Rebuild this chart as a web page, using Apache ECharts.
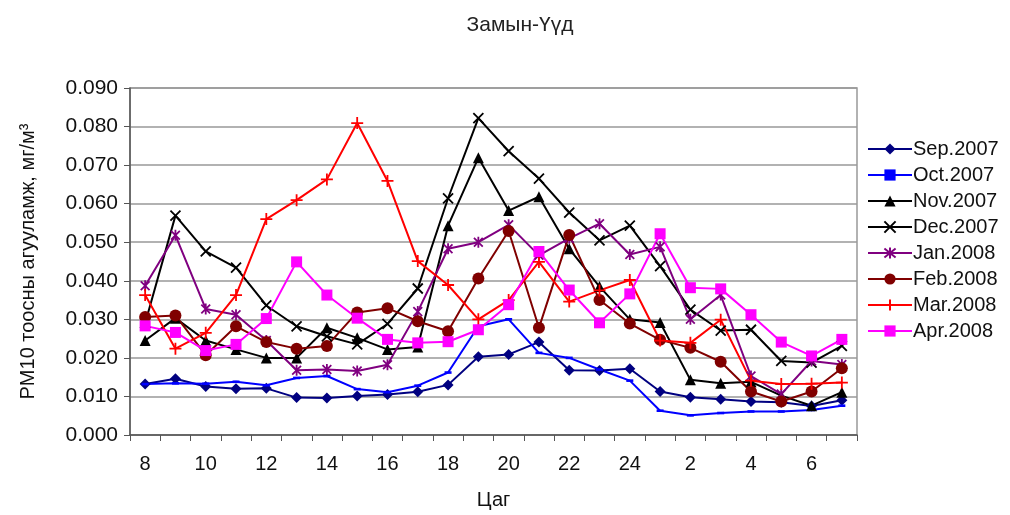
<!DOCTYPE html>
<html lang="mn">
<head>
<meta charset="UTF-8">
<title>Замын-Үүд</title>
<script src="https://cdn.jsdelivr.net/npm/echarts@6/dist/echarts.min.js"></script>
<style>
  html, body { margin: 0; padding: 0; background: #fff; }
</style>
</head>
<body>
<div id="main" style="width:1010px;height:515px;"></div>
<script type="text/javascript">
// hours of the day, starting at 8 in the morning
var hours = ['8','9','10','11','12','13','14','15','16','17','18','19','20','21','22','23','24','1','2','3','4','5','6','7'];

var sep2007 = [0.0132,0.0146,0.0126,0.0120,0.0121,0.0097,0.0096,0.0101,0.0105,0.0112,0.0130,0.0203,0.0209,0.0241,0.0168,0.0167,0.0172,0.0113,0.0098,0.0093,0.0087,0.0085,0.0075,0.0090];
var oct2007 = [0.0132,0.0134,0.0133,0.0138,0.0129,0.0148,0.0153,0.0119,0.0111,0.0128,0.0162,0.0282,0.0300,0.0213,0.0200,0.0170,0.0141,0.0063,0.0051,0.0057,0.0061,0.0061,0.0065,0.0076];
var nov2007 = [0.0245,0.0303,0.0245,0.0222,0.0200,0.0200,0.0278,0.0252,0.0222,0.0228,0.0543,0.0719,0.0582,0.0618,0.0483,0.0385,0.0300,0.0292,0.0143,0.0134,0.0138,0.0102,0.0076,0.0111];
var dec2007 = [0.0290,0.0569,0.0476,0.0434,0.0336,0.0282,0.0256,0.0235,0.0288,0.0380,0.0614,0.0822,0.0736,0.0665,0.0577,0.0505,0.0543,0.0438,0.0325,0.0271,0.0273,0.0192,0.0188,0.0231];
var jan2008 = [0.0387,0.0518,0.0327,0.0312,0.0245,0.0168,0.0170,0.0166,0.0182,0.0320,0.0483,0.0500,0.0545,0.0466,0.0510,0.0548,0.0468,0.0488,0.0300,0.0363,0.0153,0.0106,0.0192,0.0183];
var feb2008 = [0.0306,0.0310,0.0207,0.0282,0.0241,0.0224,0.0231,0.0318,0.0329,0.0295,0.0269,0.0406,0.0529,0.0278,0.0519,0.0350,0.0289,0.0247,0.0226,0.0190,0.0113,0.0087,0.0113,0.0173];
var mar2008 = [0.0363,0.0224,0.0265,0.0363,0.0560,0.0609,0.0663,0.0809,0.0659,0.0451,0.0389,0.0300,0.0350,0.0449,0.0346,0.0375,0.0402,0.0245,0.0239,0.0299,0.0141,0.0132,0.0133,0.0136];
var apr2008 = [0.0283,0.0266,0.0219,0.0235,0.0302,0.0449,0.0363,0.0303,0.0248,0.0239,0.0242,0.0273,0.0338,0.0476,0.0376,0.0291,0.0366,0.0522,0.0382,0.0379,0.0312,0.0241,0.0205,0.0248];

// marker shapes that are only strokes
var crossPath = 'path://M0,0L10,10M10,0L0,10';
var plusPath = 'path://M5,0L5,10M0,5L10,5';
var starPath = 'path://M5,0L5,10M1,1L9,9M9,1L1,9';
var dashPath = 'path://M0,0L8,0L8,3L0,3Z';

function line(name, data, color, symbol, size, stroke) {
    var s = {
        name: name,
        type: 'line',
        data: data,
        symbol: symbol,
        symbolSize: size,
        symbolKeepAspect: true,
        showAllSymbol: true,
        lineStyle: { color: color, width: 2 },
        itemStyle: { color: color, opacity: 1 },
        emphasis: { disabled: true },
        animation: false
    };
    if (stroke) {
        s.itemStyle = { color: 'rgba(0,0,0,0)', borderColor: color, borderWidth: 1.8, opacity: 1 };
    }
    return s;
}

var myChart = echarts.init(document.getElementById('main'));
myChart.setOption({
    backgroundColor: '#fff',
    textStyle: { fontFamily: 'Liberation Sans, Arial, sans-serif' },
    title: {
        text: 'Замын-Үүд',
        left: 515,
        textAlign: 'center',
        top: 10,
        textStyle: { fontSize: 21, fontWeight: 'normal', color: '#222' }
    },
    legend: {
        orient: 'vertical',
        left: 862,
        top: 134,
        itemWidth: 44,
        itemHeight: 14,
        itemGap: 6,
        textStyle: { fontSize: 20, color: '#111', padding: [0, 0, 0, -4] },
        data: ['Sep.2007','Oct.2007','Nov.2007','Dec.2007','Jan.2008','Feb.2008','Mar.2008','Apr.2008']
    },
    grid: {
        left: 130,
        right: 153,
        top: 88,
        bottom: 77,
        show: true,
        borderColor: '#999',
        borderWidth: 1.5
    },
    xAxis: {
        type: 'category',
        data: hours,
        boundaryGap: true,
        name: 'Цаг',
        nameLocation: 'middle',
        nameGap: 55,
        nameTextStyle: { fontSize: 20, color: '#111' },
        axisLine: { lineStyle: { color: '#555', width: 1.5 } },
        axisTick: { show: true, interval: 0, length: 6, lineStyle: { color: '#555' } },
        axisLabel: { interval: 1, fontSize: 20, color: '#111', margin: 19 },
        splitLine: { show: false }
    },
    yAxis: {
        type: 'value',
        min: 0,
        max: 0.09,
        interval: 0.01,
        name: 'PM10 тоосны агууламж, мг/м³',
        nameLocation: 'middle',
        nameGap: 92,
        nameTextStyle: { fontSize: 20, color: '#111' },
        axisLine: { show: true, lineStyle: { color: '#555', width: 1.5 } },
        axisTick: { show: true, length: 6, lineStyle: { color: '#555' } },
        axisLabel: {
            fontSize: 21,
            color: '#111',
            margin: 12,
            formatter: function (v) { return v.toFixed(3); }
        },
        splitLine: { show: true, lineStyle: { color: '#999', width: 1.5 } }
    },
    series: [
        line('Sep.2007', sep2007, '#000080', 'diamond', 11),
        line('Oct.2007', oct2007, '#0000FF', dashPath, 7),
        line('Nov.2007', nov2007, '#000000', 'triangle', 11),
        line('Dec.2007', dec2007, '#000000', crossPath, 10, true),
        line('Jan.2008', jan2008, '#800080', starPath, 11, true),
        line('Feb.2008', feb2008, '#800000', 'circle', 12),
        line('Mar.2008', mar2008, '#FF0000', plusPath, 12, true),
        line('Apr.2008', apr2008, '#FF00FF', 'rect', 11)
    ]
});
</script>
</body>
</html>
